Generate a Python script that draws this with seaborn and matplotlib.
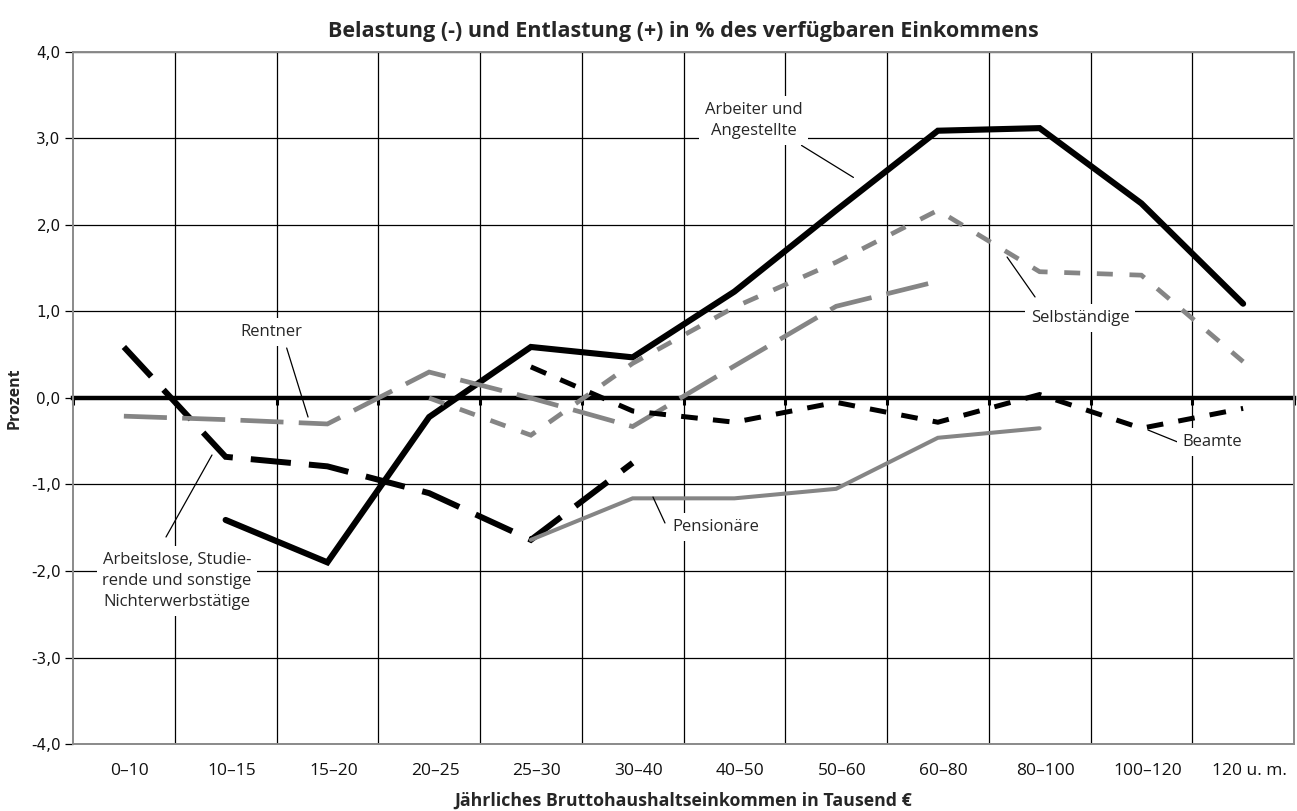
import numpy as np
import pandas as pd
import matplotlib
matplotlib.use("Agg")
import matplotlib.pyplot as plt
from matplotlib.transforms import ScaledTranslation
import seaborn as sns

# Income brackets (thousand euro, gross household income per year)
categories = ["0–10", "10–15", "15–20", "20–25", "25–30", "30–40",
              "40–50", "50–60", "60–80", "80–100", "100–120", "120 u. m."]

nan = np.nan
# Burden (-) / relief (+) in % of disposable income, by household group
arbeiter = [nan, -1.41, -1.90, -0.22, 0.59, 0.47, 1.23, 2.17, 3.09, 3.12, 2.25, 1.09]
arbeitslose = [0.59, -0.68, -0.79, -1.10, -1.64, -0.75, nan, nan, nan, nan, nan, nan]
rentner = [-0.21, -0.25, -0.30, 0.30, 0.00, -0.33, 0.37, 1.06, 1.35, nan, nan, nan]
selbstaendige = [nan, nan, nan, 0.00, -0.43, 0.40, 1.05, 1.57, 2.17, 1.46, 1.42, 0.42]
beamte = [nan, nan, nan, nan, 0.36, -0.15, -0.28, -0.05, -0.28, 0.04, -0.35, -0.12]
pensionaere = [nan, nan, nan, nan, -1.64, -1.16, -1.16, -1.05, -0.46, -0.35, nan, nan]

y_ticks = [-4, -3, -2, -1, 0, 1, 2, 3, 4]
y_ticklabels = ["-4,0", "-3,0", "-2,0", "-1,0", "0,0", "1,0", "2,0", "3,0", "4,0"]

title = "Belastung (-) und Entlastung (+) in % des verfügbaren Einkommens"
xlabel = "Jährliches Bruttohaushaltseinkommen in Tausend €"
ylabel = "Prozent"

sns.set_theme(style="white")
plt.rcParams["font.family"] = ["Open Sans", "DejaVu Sans"]
plt.rcParams["lines.scale_dashes"] = False

BLACK = "#000000"
GRAY = "#858585"

fig = plt.figure(figsize=(12.97, 8.11), dpi=100)
ax = fig.add_axes([73 / 1297, 1 - 744 / 811, (1294 - 73) / 1297, (744 - 52) / 811])

x = np.arange(len(categories))
groups = {
    "Arbeiter und Angestellte": (arbeiter, BLACK, 4.4, "-"),
    "Arbeitslose": (arbeitslose, BLACK, 4.3, (0, (29, 13))),
    "Rentner": (rentner, GRAY, 3.4, (0, (31, 11))),
    "Selbständige": (selbstaendige, GRAY, 3.4, (0, (11.5, 12))),
    "Beamte": (beamte, BLACK, 3.6, (0, (12, 11))),
    "Pensionäre": (pensionaere, GRAY, 2.9, "-"),
}
frames = []
for name, (vals, *_rest) in groups.items():
    frames.append(pd.DataFrame({"x": x, "wert": vals, "gruppe": name}))
df = pd.concat(frames, ignore_index=True)

for name, (vals, color, lw, ls) in groups.items():
    sub = df[df["gruppe"] == name].dropna()
    sns.lineplot(data=sub, x="x", y="wert", ax=ax, color=color, linewidth=lw,
                 linestyle=ls, errorbar=None, sort=False, zorder=3,
                 solid_joinstyle="miter", dash_joinstyle="miter")

ax.set_xlim(-0.5, len(categories) - 0.5)
ax.set_ylim(-4, 4)

# category labels and vertical separators between brackets
ax.set_xticks(x)
ax.set_xticklabels(categories, fontsize=12.5, color="#111111")
ax.set_xticks(np.arange(0.5, len(categories) - 0.5, 1.0), minor=True)
ax.tick_params(axis="x", which="both", length=0, pad=14)
for lab in ax.get_xticklabels():
    lab.set_transform(lab.get_transform() + ScaledTranslation(6 / 100, 0, fig.dpi_scale_trans))
ax.grid(True, axis="x", which="minor", color=BLACK, linewidth=0.9)
ax.grid(True, axis="y", which="major", color=BLACK, linewidth=0.9)

ax.set_yticks(y_ticks)
ax.set_yticklabels(y_ticklabels, fontsize=11, family="DejaVu Sans", color="#111111")
ax.tick_params(axis="y", which="major", left=True, length=6, width=0.9, color=BLACK, pad=3)

for sp in ax.spines.values():
    sp.set_color("#8a8a8a")
    sp.set_linewidth(1.4)

# zero line with small bracket ticks hanging below it
zero = ax.secondary_xaxis(0.5)
zero.set_alignment("bottom")
zero.set_xticks(np.arange(-0.5, len(categories), 1.0))
zero.set_xticklabels([])
zero.tick_params(axis="x", length=5, width=2.2, color=BLACK, direction="out")
zero.spines["bottom"].set_color(BLACK)
zero.spines["bottom"].set_linewidth(3.2)

ax.set_xlabel(xlabel, fontsize=12.8, fontweight="bold", labelpad=9)
ax.set_ylabel(ylabel, fontsize=11.5, fontweight="bold", labelpad=6)
ax.set_title(title, fontsize=15.5, fontweight="bold", pad=11)

# group labels with leader lines
label_kw = dict(fontsize=12, ha="center", va="center", linespacing=1.4, zorder=4,
                bbox=dict(boxstyle="square,pad=0.35", facecolor="white", edgecolor="none"))
leader_kw = dict(arrowprops=dict(arrowstyle="-", color=BLACK, lw=0.9, shrinkA=0, shrinkB=0))

ax.text(6.19, 3.21, "Arbeiter und\nAngestellte", **label_kw)
ax.annotate("", xy=(7.17, 2.55), xytext=(6.66, 2.92), **leader_kw)

ax.text(1.446, 0.763, "Rentner", **label_kw)
ax.annotate("", xy=(1.81, -0.22), xytext=(1.60, 0.578), **leader_kw)

ax.text(0.522, -2.115, "Arbeitslose, Studie-\nrende und sonstige\nNichterwerbstätige", **label_kw)
ax.annotate("", xy=(0.866, -0.659), xytext=(0.414, -1.607), **leader_kw)

ax.text(5.82, -1.49, "Pensionäre", **label_kw)
ax.annotate("", xy=(5.318, -1.445), xytext=(5.20, -1.145), **leader_kw)

ax.text(9.397, 0.925, "Selbständige", **label_kw)
ax.annotate("", xy=(8.955, 1.168), xytext=(8.68, 1.63), **leader_kw)

ax.text(10.70, -0.509, "Beamte", **label_kw)
ax.annotate("", xy=(10.38, -0.52), xytext=(10.065, -0.37), **leader_kw)

fig.savefig("out.png", dpi=100)
